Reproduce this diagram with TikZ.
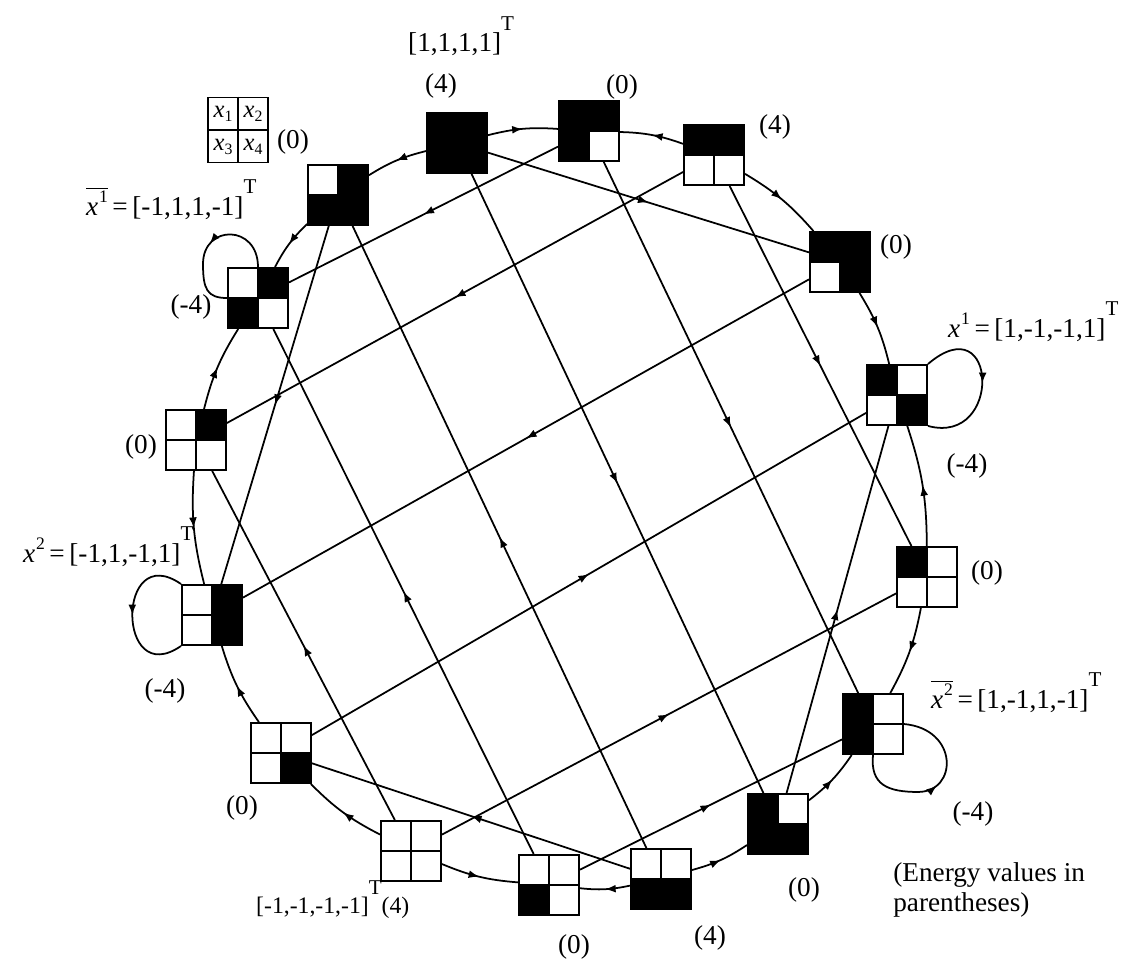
\documentclass[tikz,border=0pt]{standalone}
\usepackage{fontspec}
\setmainfont{Liberation Serif}
\usetikzlibrary{arrows.meta,decorations.markings}

\newcommand{\tp}{\raisebox{0.8em}{\fontsize{12}{12}\selectfont T}}
\newcommand{\vx}[1]{\textit{x}\kern0.5pt\raisebox{0.45em}{\fontsize{10}{10}\selectfont #1}}
\newcommand{\vxb}[1]{$\overline{\hbox{\vx{#1}}}$}
\newcommand{\cellx}[1]{\fontsize{14}{14}\selectfont\textit{x}\raisebox{-0.3ex}{\fontsize{9}{9}\selectfont #1}}

\tikzset{
  state/.style={draw, line width=1.1pt, minimum size=1.2cm, inner sep=0pt},
  cellline/.style={line width=1.1pt},
  link/.style={line width=1pt},
  tipfwd/.style={postaction={decorate}, decoration={markings,
    mark=at position 0.5 with {\arrow{Latex[length=6pt,width=4.5pt]}}}},
  tipback/.style={postaction={decorate}, decoration={markings,
    mark=at position 0.5 with {\arrowreversed{Latex[length=6pt,width=4.5pt]}}}},
  ring/.style={bend left=9},
}

% 2x2 pattern: name, position, x1, x2, x3, x4 (1 = black)
\newcommand{\hopstate}[6]{%
  \node[state] (#1) at (#2) {};
  \ifnum#3=1 \fill (#1.north west) rectangle (#1.center);\fi
  \ifnum#4=1 \fill (#1.north) rectangle (#1.east);\fi
  \ifnum#5=1 \fill (#1.west) rectangle (#1.south);\fi
  \ifnum#6=1 \fill (#1.center) rectangle (#1.south east);\fi
  \draw[cellline] (#1.north) -- (#1.south) (#1.west) -- (#1.east);
}

\begin{document}
\begin{tikzpicture}[x=0.02cm, y=-0.02cm, font=\fontsize{15.5}{17}\selectfont]
  \useasboundingbox (0,0) rectangle (1146,963);

  % the sixteen states, clockwise from [1,1,1,1]
  \hopstate{n1}{457,143}{1}{1}{1}{1}
  \hopstate{n2}{589,131}{1}{1}{1}{0}
  \hopstate{n3}{714,155}{1}{1}{0}{0}
  \hopstate{n4}{840,262}{1}{1}{0}{1}
  \hopstate{n5}{897,395}{1}{0}{0}{1}
  \hopstate{n6}{927,577}{1}{0}{0}{0}
  \hopstate{n7}{873,724}{1}{0}{1}{0}
  \hopstate{n8}{778,824}{1}{0}{1}{1}
  \hopstate{n9}{661,879}{0}{0}{1}{1}
  \hopstate{n10}{549,885}{0}{0}{1}{0}
  \hopstate{n11}{411,851}{0}{0}{0}{0}
  \hopstate{n12}{281,753}{0}{0}{0}{1}
  \hopstate{n13}{212,615}{0}{1}{0}{1}
  \hopstate{n14}{196,440}{0}{1}{0}{0}
  \hopstate{n15}{258,298}{0}{1}{1}{0}
  \hopstate{n16}{338,195}{0}{1}{1}{1}

  % key to the cells
  \node[state, minimum height=1.3cm] (key) at (238,130) {};
  \draw[cellline] (key.north) -- (key.south) (key.west) -- (key.east);
  \node (k1) at (223,114) {\cellx{1}};
  \node (k2) at (253,114) {\cellx{2}};
  \node (k3) at (223,147) {\cellx{3}};
  \node (k4) at (253,147) {\cellx{4}};

  % ring
  \draw[link, ring, tipfwd] (n1) to (n2);
  \draw[link, ring, tipback] (n2) to (n3);
  \draw[link, ring, tipfwd] (n3) to (n4);
  \draw[link, ring, tipfwd] (n4) to (n5);
  \draw[link, ring, tipback] (n5) to (n6);
  \draw[link, ring, tipfwd] (n6) to (n7);
  \draw[link, ring, tipback] (n7) to (n8);
  \draw[link, ring, tipback] (n8) to (n9);
  \draw[link, ring, tipfwd] (n9) to (n10);
  \draw[link, ring, tipback] (n10) to (n11);
  \draw[link, ring, tipfwd] (n11) to (n12);
  \draw[link, ring, tipfwd] (n12) to (n13);
  \draw[link, ring, tipback] (n13) to (n14);
  \draw[link, ring, tipfwd] (n14) to (n15);
  \draw[link, ring, tipback] (n15) to (n16);
  \draw[link, ring, tipback] (n16) to (n1);

  % chords
  \draw[link, tipfwd] (n1) -- (n8);
  \draw[link, tipfwd] (n1) -- (n4);
  \draw[link, tipfwd] (n2) -- (n15);
  \draw[link, tipfwd] (n2) -- (n7);
  \draw[link, tipfwd] (n3) -- (n14);
  \draw[link, tipfwd] (n3) -- (n6);
  \draw[link, tipfwd] (n4) -- (n13);
  \draw[link, tipfwd] (n12) -- (n5);
  \draw[link, tipfwd] (n8) -- (n5);
  \draw[link, tipfwd] (n11) -- (n6);
  \draw[link, tipfwd] (n10) -- (n7);
  \draw[link, tipfwd] (n9) -- (n16);
  \draw[link, tipfwd] (n9) -- (n12);
  \draw[link, tipfwd] (n10) -- (n15);
  \draw[link, tipfwd] (n11) -- (n14);
  \draw[link, tipfwd] (n16) -- (n13);

  % stable states loop back on themselves
  \draw[link, tipfwd] (n5.north east) .. controls +(70,-60) and +(75,20) .. (n5.south east);
  \draw[link, tipfwd] (n7.south) .. controls +(-3,30) and +(-30,0) .. ++(45,37)
    .. controls +(40,0) and +(55,5) .. (n7.east);
  \draw[link, tipfwd] (n13.north west) .. controls +(-65,-45) and +(-65,45) .. (n13.south west);
  \draw[link, tipfwd] (n15.north) .. controls +(0,-43) and +(0,-40) .. ++(-55,-3)
    .. controls +(0,25) and +(-20,0) .. (n15.west);

  % vectors and energies
  \node[anchor=base west] (top) at (402,52) {[1,1,1,1]\tp};
  \node (e1) at (441,86) {(4)};
  \node (e2) at (622,87) {(0)};
  \node (e3) at (775,127) {(4)};
  \node (e4) at (896,247) {(0)};
  \node[anchor=base west] (v1) at (942,337) {\vx{1}\,=\,[1,-1,-1,1]\tp};
  \node (e5) at (967,466) {(-4)};
  \node (e6) at (987,573) {(0)};
  \node[anchor=base west] (w2) at (925,708) {\vxb{2}\,=\,[1,-1,1,-1]\tp};
  \node (e7) at (973,814) {(-4)};
  \node (e8) at (804,890) {(0)};
  \node[anchor=north west, align=left, inner sep=0pt] (note) at (893,862) {(Energy values in\\parentheses)};
  \node (e9) at (710,938) {(4)};
  \node (e10) at (574,947) {(0)};
  \node[anchor=base west, font=\fontsize{13.5}{15}\selectfont] (bot) at (250,913) {[-1,-1,-1,-1]\tp(4)};
  \node (e12) at (242,808) {(0)};
  \node[anchor=base west] (v2) at (17,562) {\vx{2}\,=\,[-1,1,-1,1]\tp};
  \node (e13) at (165,691) {(-4)};
  \node (e14) at (141,447) {(0)};
  \node (e15) at (191,307) {(-4)};
  \node[anchor=base west] (w1) at (80,215) {\vxb{1}\,=\,[-1,1,1,-1]\tp};
  \node (e16) at (293,142) {(0)};
\end{tikzpicture}
\end{document}
